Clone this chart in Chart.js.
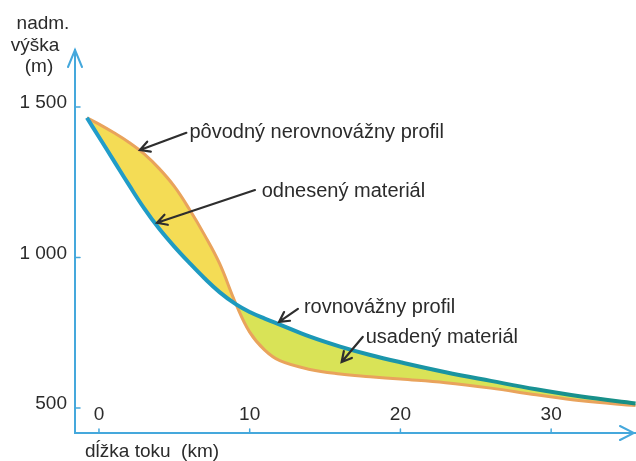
<!DOCTYPE html>
<html><head><meta charset="utf-8">
<script src="https://cdn.jsdelivr.net/npm/chart.js@4/dist/chart.umd.min.js"></script>
<style>html,body{margin:0;padding:0;background:#fff}</style>
</head><body>
<canvas id="c" width="636" height="461"></canvas>
<script>
// ---- data ----
const distanceKm = [-0.8, 0, 1, 2, 3, 4, 5, 6, 7, 8, 9.1, 10, 11, 12, 14, 16, 18, 20, 23, 26, 29, 32, 35.6];
const equilibriumProfile = [1464, 1400, 1320, 1240, 1163, 1095, 1036, 982, 931, 885, 844, 819, 797, 777, 737, 704, 676, 652, 619, 590, 562, 538, 515];
const originalProfile = [1464, 1443, 1414, 1382, 1344, 1295, 1236, 1160, 1075, 980, 844, 752, 692, 657, 628, 613, 604, 596, 584, 566, 544, 524, 508];
const xTicks = [0, 10, 20, 30];
const xTickLabels = ['0', '10', '20', '30'];
const yTicks = [500, 1000, 1500];
const yTickLabels = ['500', '1 000', '1 500'];
const yTitleLines = ['nadm.', 'výška', '(m)'];
const xTitle = 'dĺžka toku  (km)';
const labelTexts = ['pôvodný nerovnovážny profil', 'odnesený materiál', 'rovnovážny profil', 'usadený materiál'];
// annotation anchors in data units: text [km, m], arrow tail [km, m], arrow tip [km, m]
const labelAt = [[6.0, 1397], [10.8, 1201], [13.6, 816], [17.7, 716]];
const arrowTail = [[5.8, 1414], [10.35, 1224], [13.2, 829], [17.5, 736]];
const arrowTip = [[2.72, 1357], [3.85, 1115], [11.95, 786], [16.1, 653]];

const FONT = '"Liberation Sans", Arial, Helvetica, sans-serif';
const TXT = '#2b2b2b';
const AXIS = '#45a8dc';

const points = arr => arr.map((v, i) => ({x: distanceKm[i], y: v}));

const decor = {
  id: 'decor',
  afterDraw(chart) {
    const {ctx, chartArea: a, scales: {x, y}} = chart;
    ctx.save();
    // axis arrows
    ctx.strokeStyle = AXIS; ctx.lineWidth = 2; ctx.lineCap = 'round';
    ctx.beginPath();
    ctx.moveTo(a.left - 7, a.top + 17); ctx.lineTo(a.left, a.top); ctx.lineTo(a.left + 7, a.top + 17);
    ctx.moveTo(a.right - 16, a.bottom - 7); ctx.lineTo(a.right - 2, a.bottom); ctx.lineTo(a.right - 16, a.bottom + 7);
    ctx.stroke();
    // small tick marks
    ctx.lineWidth = 1.5;
    ctx.beginPath();
    yTicks.forEach(v => { const py = y.getPixelForValue(v); ctx.moveTo(a.left, py); ctx.lineTo(a.left + 5, py); });
    xTicks.forEach(v => { const px = x.getPixelForValue(v); ctx.moveTo(px, a.bottom); ctx.lineTo(px, a.bottom - 4); });
    ctx.stroke();
    // x tick labels (inside, above the axis)
    ctx.fillStyle = TXT; ctx.font = '19px ' + FONT;
    ctx.textAlign = 'center'; ctx.textBaseline = 'alphabetic';
    xTicks.forEach((v, i) => ctx.fillText(xTickLabels[i], x.getPixelForValue(v), a.bottom - 13));
    // axis titles
    ctx.fillText(yTitleLines[0], 43, 29);
    ctx.fillText(yTitleLines[1], 35, 51);
    ctx.fillText(yTitleLines[2], 39, 72);
    ctx.textAlign = 'left';
    ctx.fillText(xTitle, 85, 457);
    // annotations
    ctx.font = '20px ' + FONT;
    labelTexts.forEach((t, i) => {
      ctx.fillText(t, x.getPixelForValue(labelAt[i][0]), y.getPixelForValue(labelAt[i][1]));
    });
    ctx.strokeStyle = '#2e2e2e'; ctx.lineWidth = 2.2; ctx.lineJoin = 'miter';
    arrowTail.forEach((t, i) => {
      const x1 = x.getPixelForValue(t[0]), y1 = y.getPixelForValue(t[1]);
      const x2 = x.getPixelForValue(arrowTip[i][0]), y2 = y.getPixelForValue(arrowTip[i][1]);
      const ang = Math.atan2(y2 - y1, x2 - x1), L = 11, s = 0.5;
      ctx.beginPath();
      ctx.moveTo(x1, y1); ctx.lineTo(x2, y2);
      ctx.moveTo(x2 - L * Math.cos(ang - s), y2 - L * Math.sin(ang - s));
      ctx.lineTo(x2, y2);
      ctx.lineTo(x2 - L * Math.cos(ang + s), y2 - L * Math.sin(ang + s));
      ctx.stroke();
    });
    ctx.restore();
  }
};

new Chart(document.getElementById('c'), {
  type: 'line',
  data: {
    datasets: [
      {
        label: 'rovnovážny profil',
        data: points(equilibriumProfile),
        borderColor: c => {
          const a = c.chart.chartArea;
          if (!a) return '#1f9ccc';
          const g = c.chart.ctx.createLinearGradient(a.left, 0, a.right, 0);
          g.addColorStop(0, '#229dcc'); g.addColorStop(0.4, '#1c98b8'); g.addColorStop(1, '#178f84');
          return g;
        },
        borderWidth: 4,
        pointRadius: 0,
        tension: 0.4,
        fill: false
      },
      {
        label: 'pôvodný nerovnovážny profil',
        data: points(originalProfile),
        borderColor: '#e9a35c',
        borderWidth: 3,
        pointRadius: 0,
        tension: 0.4,
        fill: {target: 0, above: '#f4dc55', below: '#d9e357'}
      }
    ]
  },
  options: {
    responsive: false,
    animation: false,
    layout: {padding: {top: 50, right: 0, left: 0, bottom: 0}},
    plugins: {legend: {display: false}, tooltip: {enabled: false}},
    scales: {
      x: {
        type: 'linear', min: -1.59, max: 35.63,
        grid: {display: false},
        ticks: {display: false},
        border: {display: true, color: AXIS, width: 2},
        afterFit: s => { s.height = 28; }
      },
      y: {
        type: 'linear', min: 417, max: 1689,
        grid: {display: false},
        afterBuildTicks: s => { s.ticks = yTicks.map(v => ({value: v})); },
        ticks: {
          callback: v => yTickLabels[yTicks.indexOf(v)],
          color: TXT, font: {family: FONT, size: 19}, padding: 0, labelOffset: -4
        },
        border: {display: true, color: AXIS, width: 2},
        afterFit: s => { s.width = 75; }
      }
    }
  },
  plugins: [decor]
});
</script>
</body></html>
